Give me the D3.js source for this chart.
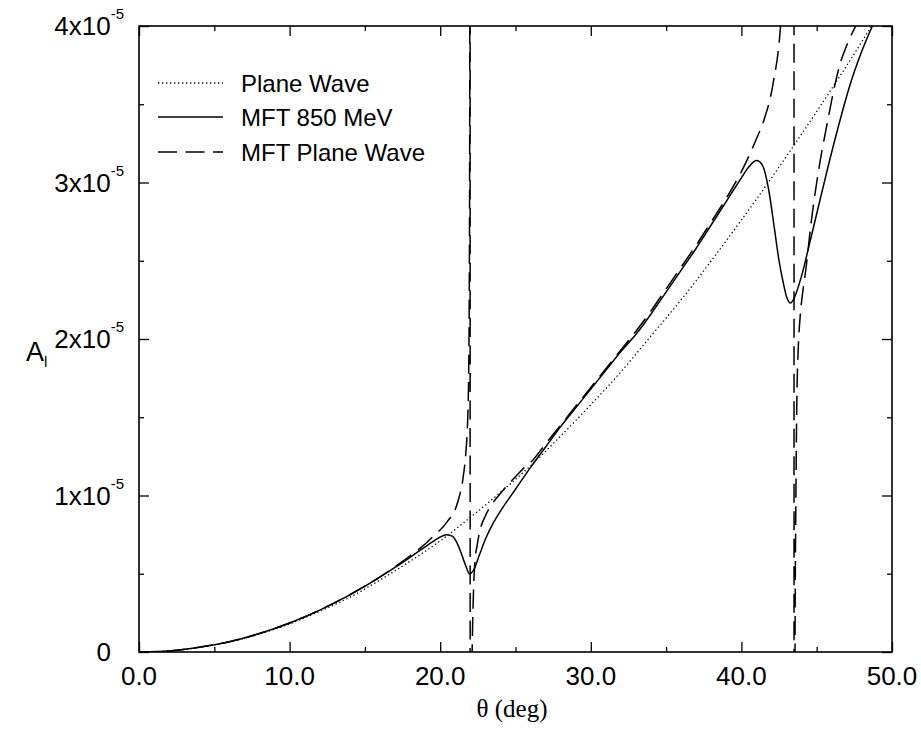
<!DOCTYPE html>
<html>
<head>
<meta charset="utf-8">
<script src="https://cdn.jsdelivr.net/npm/d3@7"></script>
<style>
  html, body { margin: 0; padding: 0; background: #fff; }
  svg { display: block; }
</style>
</head>
<body>
<svg id="chart" width="921" height="729"></svg>
<script>
// ---- data (A_l in units of 1e-5, theta in degrees) ----
const planeWaveTheta = [0,2,4,6,8,10,12,14,16,18,20,22,24,26,28,30,32,34,36,38,40,42,44,46,48,50];
const planeWaveVals  = [0,0.007,0.029,0.065,0.115,0.18,0.26,0.35,0.46,0.58,0.71,0.86,1.02,1.19,1.38,1.58,1.79,2.02,2.25,2.50,2.76,3.03,3.31,3.60,3.90,4.22];

const mft850Theta = [0,2,4,6,8,10,12,14,16,17,18,19,19.5,20,20.4,20.8,21.1,21.4,21.7,21.95,22.2,22.6,23.0,23.5,24,25,26,27,28,29,30,31,32,33,34,35,36,37,38,39,40,40.5,41,41.4,41.8,42.2,42.5,42.8,43.0,43.25,43.5,43.8,44.1,44.5,45,45.7,46.5,47.2,48,48.7,49.5,50];
const mft850Vals  = [0,0.007,0.03,0.066,0.118,0.185,0.268,0.365,0.478,0.54,0.605,0.672,0.705,0.735,0.75,0.74,0.70,0.63,0.55,0.50,0.52,0.62,0.72,0.82,0.90,1.04,1.18,1.31,1.44,1.56,1.68,1.80,1.92,2.03,2.16,2.30,2.44,2.58,2.73,2.88,3.03,3.10,3.14,3.11,2.96,2.70,2.50,2.35,2.27,2.23,2.26,2.34,2.44,2.60,2.80,3.08,3.38,3.62,3.84,4.0,4.16,4.26];

const mftPwTheta = [0,2,4,6,8,10,12,14,16,17,18,19,19.6,20.2,20.6,20.9,21.2,21.5,21.7,21.8,21.88,21.93,21.96,21.975,21.985,21.99,22.0,22.05,22.1,22.2,22.3,22.45,22.6,23.0,23.4,23.8,24.5,25,25.5,26,27,28,29,30,31,32,33,34,35,36,37,38,39,40,40.6,41,41.5,42.1,42.6,42.9,43.15,43.35,43.45,43.49,43.5,43.52,43.56,43.62,43.68,43.78,43.9,44.1,44.3,44.6,45,45.7,46.5,47.1,47.7,48.5,50];
const mftPwVals  = [0,0.007,0.03,0.066,0.118,0.185,0.268,0.366,0.48,0.545,0.615,0.69,0.745,0.80,0.85,0.89,0.97,1.10,1.27,1.42,1.7,2.3,3.5,8,40,-40,-8,-1.5,-0.2,0.35,0.57,0.68,0.76,0.87,0.94,0.99,1.07,1.12,1.17,1.21,1.33,1.45,1.57,1.69,1.81,1.93,2.05,2.18,2.32,2.46,2.60,2.75,2.90,3.07,3.19,3.28,3.40,3.63,4.0,4.5,5.5,9,20,40,-40,-5,0,1.0,1.6,1.95,2.14,2.32,2.46,2.72,3.0,3.38,3.74,3.9,4.02,4.15,4.35];

const xTickLabels = ["0.0","10.0","20.0","30.0","40.0","50.0"];
const xTickValues = [0,10,20,30,40,50];
const yTickValues = [0,1,2,3,4];
const yTickMantissa = ["0","1x10","2x10","3x10","4x10"];
const legendLabels = ["Plane Wave","MFT 850 MeV","MFT Plane Wave"];

// ---- layout ----
const svg = d3.select("#chart");
const L = 139, R = 892, T = 26, B = 652;
const x = d3.scaleLinear().domain([0, 50]).range([L, R]);
const y = d3.scaleLinear().domain([0, 4]).range([B, T]);

svg.append("defs").append("clipPath").attr("id", "plotclip")
  .append("rect").attr("x", L).attr("y", T).attr("width", R - L).attr("height", B - T);

const styles = [
  { dash: "1.3,2.7", width: 1.3 },
  { dash: null, width: 1.5 },
  { dash: "19,8.5", width: 1.5 }
];

const series = [
  d3.zip(planeWaveTheta, planeWaveVals),
  d3.zip(mft850Theta, mft850Vals),
  d3.zip(mftPwTheta, mftPwVals)
];

const line = d3.line().x(d => x(d[0])).y(d => y(d[1])).curve(d3.curveMonotoneX);

const plot = svg.append("g").attr("clip-path", "url(#plotclip)");
series.forEach((s, i) => {
  plot.append("path")
    .attr("d", line(s))
    .attr("fill", "none")
    .attr("stroke", "#000")
    .attr("stroke-width", styles[i].width)
    .attr("stroke-dasharray", styles[i].dash);
});

// ---- axes (ticks inward on all four sides) ----
const axisColor = "#000";
const xMajor = d3.axisBottom(x).tickValues(xTickValues).tickSize(-10).tickFormat("");
const xMinor = d3.axisBottom(x).tickValues([5,15,25,35,45]).tickSize(-5).tickFormat("");
const yMajor = d3.axisLeft(y).tickValues(yTickValues).tickSize(-10).tickFormat("");
const yMinor = d3.axisLeft(y).tickValues([0.5,1.5,2.5,3.5]).tickSize(-5).tickFormat("");
const xMajorT = d3.axisTop(x).tickValues(xTickValues).tickSize(-10).tickFormat("");
const xMinorT = d3.axisTop(x).tickValues([5,15,25,35,45]).tickSize(-5).tickFormat("");
const yMajorR = d3.axisRight(y).tickValues(yTickValues).tickSize(-10).tickFormat("");
const yMinorR = d3.axisRight(y).tickValues([0.5,1.5,2.5,3.5]).tickSize(-5).tickFormat("");

function addAxis(ax, tx, ty) {
  const g = svg.append("g").attr("transform", `translate(${tx},${ty})`).call(ax);
  g.select(".domain").remove();
  g.selectAll("line").attr("stroke", axisColor).attr("stroke-width", 1.3);
}
addAxis(xMajor, 0, B); addAxis(xMinor, 0, B);
addAxis(xMajorT, 0, T); addAxis(xMinorT, 0, T);
addAxis(yMajor, L, 0); addAxis(yMinor, L, 0);
addAxis(yMajorR, R, 0); addAxis(yMinorR, R, 0);

svg.append("rect").attr("x", L).attr("y", T).attr("width", R - L).attr("height", B - T)
  .attr("fill", "none").attr("stroke", axisColor).attr("stroke-width", 1.6);

// x tick labels
const font = "Liberation Sans, Arial, Helvetica, sans-serif";
svg.append("g").selectAll("text").data(xTickValues).join("text")
  .attr("x", d => x(d)).attr("y", B + 33)
  .attr("text-anchor", "middle")
  .attr("font-family", font).attr("font-size", 26)
  .text((d, i) => xTickLabels[i]);

// y tick labels
const yl = svg.append("g");
yTickValues.forEach((v, i) => {
  if (v === 0) {
    yl.append("text").attr("x", 111).attr("y", y(v) + 9)
      .attr("text-anchor", "end").attr("font-family", font).attr("font-size", 26)
      .text(yTickMantissa[i]);
  } else {
    const t = yl.append("text").attr("x", 124).attr("y", y(v) + 9)
      .attr("text-anchor", "end").attr("font-family", font).attr("font-size", 26);
    t.append("tspan").text(yTickMantissa[i]);
    t.append("tspan").attr("font-size", 15).attr("dy", -16).text("-5");
  }
});

// axis titles
const yt = svg.append("text").attr("x", 26).attr("y", 361)
  .attr("font-family", font).attr("font-size", 27);
yt.append("tspan").text("A");
yt.append("tspan").attr("font-size", 15).attr("dy", 6).text("l");

svg.append("text").attr("x", 512).attr("y", 717)
  .attr("text-anchor", "middle")
  .attr("font-family", "Liberation Serif, Times New Roman, serif")
  .attr("font-size", 25)
  .text("θ (deg)");

// legend
const legY = [83, 117, 152];
legendLabels.forEach((lab, i) => {
  svg.append("line")
    .attr("x1", 158).attr("x2", 223).attr("y1", legY[i]).attr("y2", legY[i])
    .attr("stroke", "#000").attr("stroke-width", styles[i].width)
    .attr("stroke-dasharray", styles[i].dash);
  svg.append("text").attr("x", 241).attr("y", legY[i] + 8.5)
    .attr("font-family", font).attr("font-size", 24)
    .text(lab);
});
</script>
</body>
</html>
